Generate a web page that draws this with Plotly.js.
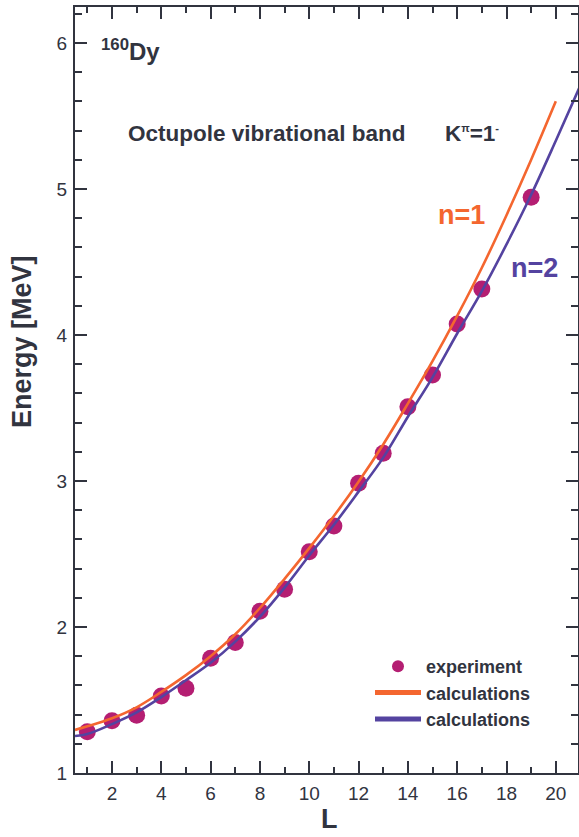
<!DOCTYPE html>
<html>
<head>
<meta charset="utf-8">
<script src="https://cdn.plot.ly/plotly-3.0.1.min.js"></script>
<style>
  html, body { margin: 0; padding: 0; background: #ffffff; }
  #chart { width: 579px; height: 837px; }
</style>
</head>
<body>
<div id="chart"></div>
<script>
// Measured levels of the octupole band (energy in MeV vs angular momentum L)
const expL = [1, 2, 3, 4, 5, 6, 7, 8, 9, 10, 11, 12, 13, 14, 15, 16, 17, 19];
const expE = [1.283, 1.358, 1.395, 1.527, 1.580, 1.786, 1.893, 2.108, 2.258, 2.516,
              2.692, 2.984, 3.190, 3.509, 3.726, 4.075, 4.315, 4.943];

// Model curve, n = 1
const calcL1 = [0.5, 1, 2, 3, 4, 5, 6, 7, 8, 9, 10, 11, 12, 13, 14, 15, 16, 17, 18, 19, 20];
const calcE1 = [1.295, 1.320, 1.375, 1.450, 1.555, 1.670, 1.800, 1.950, 2.130, 2.330, 2.540,
                2.760, 2.995, 3.250, 3.530, 3.820, 4.130, 4.460, 4.820, 5.200, 5.600];

// Model curve, n = 2
const calcL2 = [0.5, 1, 2, 3, 4, 5, 6, 7, 8, 9, 10, 11, 12, 13, 14, 15, 16, 17, 18, 19, 20, 21];
const calcE2 = [1.253, 1.267, 1.335, 1.415, 1.520, 1.635, 1.755, 1.900, 2.070, 2.270, 2.490,
                2.700, 2.927, 3.160, 3.440, 3.710, 4.010, 4.300, 4.620, 4.960, 5.330, 5.710];

const xTickVals = [2, 4, 6, 8, 10, 12, 14, 16, 18, 20];
const yTickVals = [1, 2, 3, 4, 5, 6];

const INK = '#31343f';
const ORANGE = '#f4662f';
const VIOLET = '#5443a0';
const MAGENTA = '#b41e72';
const FONT = 'Liberation Sans, Arial, Helvetica, sans-serif';

const W = 579, H = 837;
const M = { l: 75, r: 1, t: 7, b: 64 };
// pixel -> paper helpers for free-floating labels
const px = x => (x - M.l) / (W - M.l - M.r);
const py = y => (H - M.b - y) / (H - M.t - M.b);

const traces = [
  {
    x: expL, y: expE, type: 'scatter', mode: 'markers',
    name: '<b>experiment</b>',
    marker: { color: MAGENTA, size: 17 }
  },
  {
    x: calcL1, y: calcE1, type: 'scatter', mode: 'lines',
    name: '<b>calculations</b>',
    line: { color: ORANGE, width: 2.6, shape: 'spline', smoothing: 1 }
  },
  {
    x: calcL2, y: calcE2, type: 'scatter', mode: 'lines',
    name: '<b>calculations</b>',
    line: { color: VIOLET, width: 2.6, shape: 'spline', smoothing: 1 }
  }
];

const axisCommon = {
  showline: true, linecolor: INK, linewidth: 2.2, mirror: 'allticks',
  ticks: 'inside', tickcolor: INK, tickwidth: 2, ticklen: 12,
  showgrid: false, zeroline: false,
  tickfont: { family: FONT, size: 19, color: INK }
};

const layout = {
  width: W, height: H,
  margin: M,
  paper_bgcolor: '#ffffff', plot_bgcolor: '#ffffff',
  font: { family: FONT, color: INK },
  xaxis: Object.assign({}, axisCommon, {
    range: [0.5, 20.9],
    tickmode: 'array', tickvals: xTickVals,
    ticklabelstandoff: 2,
    minor: { dtick: 1, tick0: 0, ticks: 'inside', ticklen: 6, tickwidth: 2, tickcolor: INK, showgrid: false }
  }),
  yaxis: Object.assign({}, axisCommon, {
    range: [1, 6.246],
    tickmode: 'array', tickvals: yTickVals,
    ticklabelstandoff: 2,
    minor: { dtick: 0.2, tick0: 0, ticks: 'inside', ticklen: 7, tickwidth: 2, tickcolor: INK, showgrid: false }
  }),
  showlegend: true,
  legend: {
    x: px(370), y: py(648), xanchor: 'left', yanchor: 'top',
    bgcolor: 'rgba(0,0,0,0)', borderwidth: 0,
    itemwidth: 46, itemsizing: 'constant', tracegroupgap: 0,
    font: { family: FONT, size: 18, color: INK }
  },
  annotations: [
    {
      xref: 'paper', yref: 'paper', x: px(22), y: py(342), xanchor: 'center', yanchor: 'middle',
      text: '<b>Energy [MeV]</b>', textangle: -90, showarrow: false,
      font: { family: FONT, size: 27, color: INK }
    },
    {
      xref: 'paper', yref: 'paper', x: px(329), y: py(819), xanchor: 'center', yanchor: 'middle',
      text: '<b>L</b>', showarrow: false,
      font: { family: FONT, size: 27, color: INK }
    },
    {
      xref: 'paper', yref: 'paper', x: px(99), y: py(50), xanchor: 'left', yanchor: 'middle',
      text: '<b><sup>160</sup>Dy</b>', showarrow: false,
      font: { family: FONT, size: 24, color: INK }
    },
    {
      xref: 'paper', yref: 'paper', x: px(126), y: py(133), xanchor: 'left', yanchor: 'middle',
      text: '<b>Octupole vibrational band</b>', showarrow: false,
      font: { family: FONT, size: 22.5, color: INK }
    },
    {
      xref: 'paper', yref: 'paper', x: px(443), y: py(133), xanchor: 'left', yanchor: 'middle',
      text: '<b>K<sup><span style="font-size:11px">π</span></sup>=1<sup><span style="font-size:11px">-</span></sup></b>',
      showarrow: false,
      font: { family: FONT, size: 22.5, color: INK }
    },
    {
      xref: 'paper', yref: 'paper', x: px(436), y: py(215), xanchor: 'left', yanchor: 'middle',
      text: '<b>n=1</b>', showarrow: false,
      font: { family: FONT, size: 27, color: ORANGE }
    },
    {
      xref: 'paper', yref: 'paper', x: px(509), y: py(268), xanchor: 'left', yanchor: 'middle',
      text: '<b>n=2</b>', showarrow: false,
      font: { family: FONT, size: 27, color: VIOLET }
    }
  ]
};

Plotly.newPlot('chart', traces, layout, { displayModeBar: false, staticPlot: true });
</script>
</body>
</html>
